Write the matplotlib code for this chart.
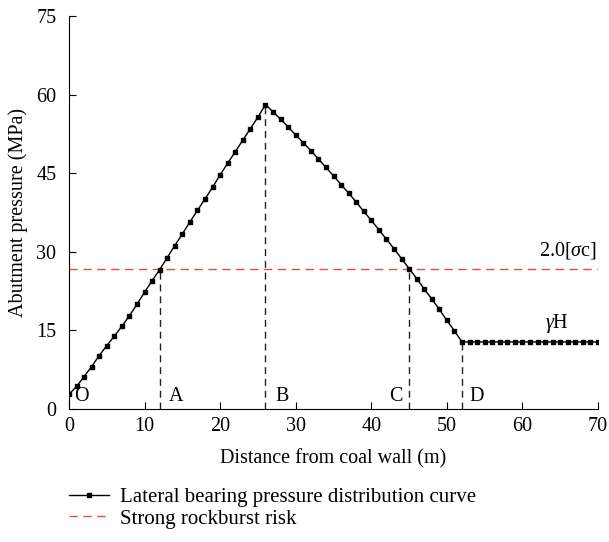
import matplotlib
matplotlib.use("Agg")
import matplotlib.pyplot as plt

plt.rcParams['font.family'] = ['Liberation Serif', 'DejaVu Serif']
plt.rcParams['mathtext.fontset'] = 'custom'
plt.rcParams['mathtext.rm'] = 'Liberation Serif'
plt.rcParams['mathtext.it'] = 'Liberation Serif:italic'

# Data
distance = list(range(0, 71))
pressure = [
    2.8, 4.3, 6.2, 8.1, 10.2, 12.1, 13.9, 15.8, 17.8, 20.0,
    22.3, 24.5, 26.6, 28.9, 31.2, 33.4, 35.7, 37.9, 40.1, 42.3,
    44.7, 46.9, 49.1, 51.3, 53.5, 55.7, 58.1,
    56.7, 55.3, 53.8, 52.3, 50.8, 49.3, 47.7, 46.1, 44.5,
    42.8, 41.2, 39.5, 37.7, 36.0, 34.2, 32.4, 30.6, 28.7, 26.8,
    24.9, 22.9, 21.0, 19.0, 16.9, 14.9, 12.8,
    12.8, 12.8, 12.8, 12.8, 12.8, 12.8, 12.8, 12.8, 12.8,
    12.8, 12.8, 12.8, 12.8, 12.8, 12.8, 12.8, 12.8, 12.8,
]
risk_level = 26.8
point_x = [12, 26, 45, 52]
point_y = [26.8, 58.1, 26.8, 12.8]
point_labels = ['O', 'A', 'B', 'C', 'D']
label_x = [0.7, 13.2, 27.3, 42.4, 53.0]

fig = plt.figure(figsize=(6.09, 5.42), dpi=100)
ax = fig.add_axes([0.1133, 0.2454, 0.8687, 0.7251])

ax.plot(distance, pressure, color='black', lw=1.0, marker='s', ms=2.8,
        label='Lateral bearing pressure distribution curve', zorder=3)
ax.axhline(risk_level, color='#e5484f', lw=1.0, ls=(0, (6, 4)),
           label='Strong rockburst risk', zorder=2)
for px, py in zip(point_x, point_y):
    ax.plot([px, px], [0, py], color='#222222', lw=1.0, ls=(0, (5, 3.5)), zorder=1)

for lx, lab in zip(label_x, point_labels):
    ax.text(lx, 0.6, lab, fontsize=14.5, ha='left', va='bottom')

ax.text(69.8, 28.3, r'2.0[$\sigma$c]', fontsize=14.5, ha='right', va='bottom')
ax.text(64.5, 14.2, r'$\gamma$H', fontsize=14.5, ha='center', va='bottom')

ax.set_xlim(0, 70)
ax.set_ylim(0, 75)
ax.set_xticks([0, 10, 20, 30, 40, 50, 60, 70])
ax.set_yticks([0, 15, 30, 45, 60, 75])
ax.tick_params(direction='in', length=5, labelsize=14.5, width=0.8)
ax.tick_params(axis='x', pad=6)
ax.tick_params(axis='y', pad=9)
ax.spines['top'].set_visible(False)
ax.spines['right'].set_visible(False)
ax.set_xlabel('Distance from coal wall (m)', fontsize=14.5, labelpad=9)
ax.set_ylabel('Abutment pressure (MPa)', fontsize=14.5, labelpad=6)

fig.legend(loc='upper left', bbox_to_anchor=(0.114, 0.101), frameon=False,
           fontsize=15, handlelength=1.9, handletextpad=0.55,
           labelspacing=0.1, borderaxespad=0, borderpad=0)

fig.savefig('out.png', dpi=100)
